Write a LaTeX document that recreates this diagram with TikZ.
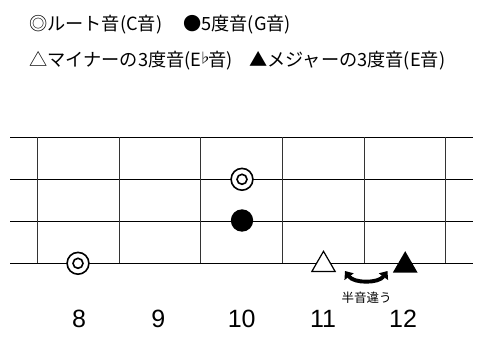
\documentclass[tikz,border=0pt]{standalone}
\usepackage{fontspec}
\setmainfont{Liberation Sans}
\newfontfamily\jp{Noto Sans CJK JP}
\usetikzlibrary{arrows.meta,shapes.geometric}
\begin{document}
\begin{tikzpicture}[x=1pt,y=-1pt,
  strline/.style={line width=0.9pt,black},
  fretline/.style={line width=0.9pt,black!80},
  legend/.style={anchor=west,inner sep=0pt,font=\jp\fontsize{18.2}{18}\selectfont},
  num/.style={inner sep=0pt,font=\fontsize{25}{25}\selectfont},
  small/.style={inner sep=0pt,font=\jp\fontsize{12.5}{12.5}\selectfont},
  rootmark/.style={circle,draw,fill=white,line width=1.6pt,inner sep=0pt,minimum size=21.8pt},
  fifthmark/.style={circle,fill=black,inner sep=0pt,minimum size=22.4pt},
  minormark/.style={regular polygon,regular polygon sides=3,draw,fill=white,line width=1.2pt,inner sep=0pt,minimum size=27pt},
  majormark/.style={regular polygon,regular polygon sides=3,fill=black,inner sep=0pt,minimum size=28.5pt},
  halfarrow/.style={line width=3.9pt,{Triangle[length=7pt,width=11pt]}-{Triangle[length=7pt,width=11pt]}}
]
\useasboundingbox (0,0) rectangle (482,347);

% legend
\node[legend] (l1) at (29,25) {◎ルート音(C音)};
\node[legend] (l2) at (183,25) {●5度音(G音)};
\node[legend] (l3) at (29,60.5) {△マイナーの3度音(E\makebox[7pt]{\raisebox{0.3ex}{\fontsize{14}{14}\selectfont ♭}}音)};
\node[legend] (l4) at (249,60.5) {▲メジャーの3度音(E音)};

% strings
\foreach \y [count=\i] in {137.3,179.3,221,263.3}{
  \coordinate (sL\i) at (10,\y);
  \coordinate (sR\i) at (473,\y);
  \draw[strline] (sL\i) -- (sR\i);
}
% frets
\foreach \x [count=\i] in {37.3,119,200.7,282.3,364,445.7}{
  \coordinate (fT\i) at (\x,137.3);
  \coordinate (fB\i) at (\x,263.3);
  \draw[fretline] (fT\i) -- (fB\i);
}

% markers
\node[rootmark] (r10) at (242,179.3) {};
\draw[line width=1.6pt] (r10.center) circle (5);
\node[fifthmark] (g10) at (242,220.5) {};
\node[rootmark] (r8) at (78,263.3) {};
\draw[line width=1.6pt] (r8.center) circle (5);
\node[minormark] (m11) at (323.5,264.8) {};
\node[majormark] (M12) at (405.2,265.4) {};

% half-step arrow
\coordinate (a1) at (345,271);
\coordinate (a2) at (387.5,271);
\draw[halfarrow] (a1) .. controls (354,283.5) and (378.5,283.5) .. (a2);
\node[small] (hs) at (366.5,298) {半音違う};

% fret numbers
\node[num] (n8) at (79,319) {8};
\node[num] (n9) at (158.3,319) {9};
\node[num] (n10) at (241.7,319) {10};
\node[num] (n11) at (323,319) {11};
\node[num] (n12) at (403,319) {12};
\end{tikzpicture}
\end{document}
